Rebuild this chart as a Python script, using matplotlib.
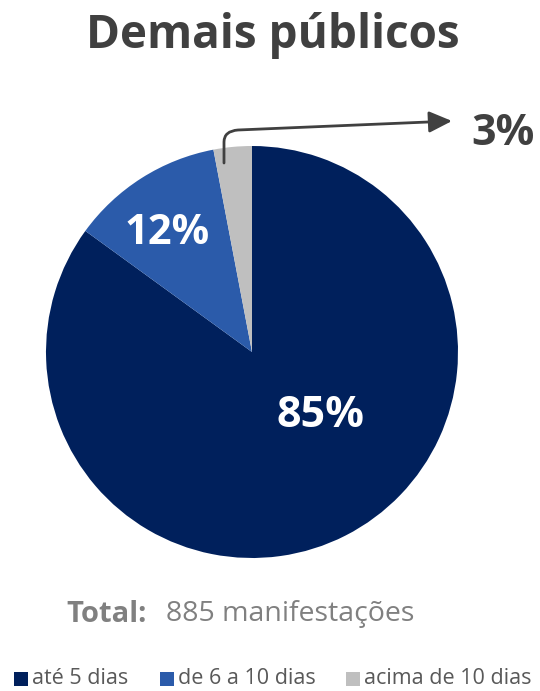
import matplotlib
matplotlib.use("Agg")
import matplotlib.pyplot as plt
from matplotlib.patches import FancyArrowPatch, Rectangle
from matplotlib.path import Path

categories = ["até 5 dias", "de 6 a 10 dias", "acima de 10 dias"]
shares = [85, 12, 3]
labels = ["85%", "12%", "3%"]
colors = ["#00205C", "#2B5BAA", "#BFBFBF"]
title = "Demais públicos"
total = 885

plt.rcParams["font.family"] = ["Open Sans", "DejaVu Sans"]

W, H = 540, 691
fig = plt.figure(figsize=(W / 100, H / 100), dpi=100)
ax = fig.add_axes([0, 0, 1, 1])

cx, cy, r = 252, H - 352, 206
ax.pie(shares, colors=colors, startangle=90, counterclock=False,
       center=(cx, cy), radius=r, frame=True, wedgeprops=dict(linewidth=0))
ax.set_xlim(0, W)
ax.set_ylim(0, H)
ax.set_aspect("equal")
ax.axis("off")

# inner labels
ax.text(320, H - 415, labels[0], color="white", fontsize=31, fontweight="bold",
        ha="center", va="center")
ax.text(167, H - 233, labels[1], color="white", fontsize=30, fontweight="bold",
        ha="center", va="center")

# callout for the small slice
verts = [(224, H - 163), (224, H - 142), (224, H - 131), (238, H - 130), (452, H - 121)]
codes = [Path.MOVETO, Path.LINETO, Path.CURVE3, Path.CURVE3, Path.LINETO]
arrow = FancyArrowPatch(path=Path(verts, codes),
                        arrowstyle="-|>,head_length=14,head_width=6.5",
                        color="#404040", lw=2, mutation_scale=1)
ax.add_patch(arrow)
ax.text(503, H - 133, labels[2], color="#404040", fontsize=31, fontweight="bold",
        ha="center", va="center")

ax.text(273, H - 35, title, color="#404040", fontsize=33, fontweight="bold",
        ha="center", va="center")

ax.text(66, H - 614, "Total:", color="#808080", fontsize=21, fontweight="bold",
        ha="left", va="center")
ax.text(166, H - 614, f"{total} manifestações", color="#808080", fontsize=20.5,
        ha="left", va="center")

# legend
leg_x = [14, 160, 346]
for x, c, t in zip(leg_x, colors, categories):
    ax.add_patch(Rectangle((x, H - 686), 14, 14, color=c, lw=0))
    ax.text(x + 18, H - 679, t, color="#595959", fontsize=15.5, ha="left", va="center")

fig.savefig("out.png", dpi=100)
